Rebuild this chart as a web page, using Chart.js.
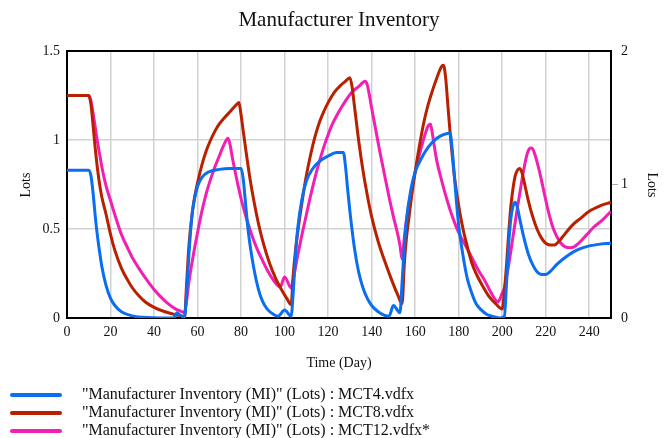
<!DOCTYPE html>
<html>
<head>
<meta charset="utf-8">
<script src="https://cdn.jsdelivr.net/npm/chart.js@4/dist/chart.umd.min.js"></script>
<style>
html,body{margin:0;padding:0;background:#fff;}
#wrap{width:664px;height:438px;}
</style>
</head>
<body>
<div id="wrap"><canvas id="c" width="664" height="438"></canvas></div>
<script>
const chartTitle = "Manufacturer Inventory";
const xTitle = "Time (Day)";
const yTitle = "Lots";
const seriesLabels = [
  "\"Manufacturer Inventory (MI)\" (Lots) : MCT4.vdfx",
  "\"Manufacturer Inventory (MI)\" (Lots) : MCT8.vdfx",
  "\"Manufacturer Inventory (MI)\" (Lots) : MCT12.vdfx*"
];
const seriesColors = ["#0a6ef0", "#b92000", "#f21fb2"];

const mct4T = [0,10,11,12,13,14,15,16,18,20,22,25,30,35,40,45,49,50.5,52,54,55,56,57,58,60,62,65,70,75,80,81,82,83,84,86,88,90,92,95,97,100,103,104,105,106,108,110,113,116,120,124,127,128,129,130,132,134,136,138,140,143,146,148,150,153,154,155,156,158,160,163,166,170,173,176,177,178,179,180,182,184,186,188,190,193,196,199,201,202,203,204,205,206,207,208,210,212,214,216,218,220,222,225,230,235,240,245,250];
const mct4V = [0.83,0.83,0.80,0.70,0.57,0.46,0.37,0.29,0.18,0.11,0.07,0.035,0.012,0.004,0.001,0,0,0.03,0.015,0.005,0.15,0.35,0.52,0.63,0.74,0.79,0.82,0.835,0.84,0.84,0.78,0.65,0.52,0.42,0.27,0.16,0.09,0.05,0.02,0.01,0.045,0.01,0.15,0.35,0.5,0.67,0.77,0.84,0.88,0.91,0.93,0.93,0.85,0.72,0.6,0.4,0.26,0.17,0.11,0.07,0.035,0.015,0.01,0.07,0.03,0.2,0.4,0.55,0.72,0.82,0.9,0.96,1.01,1.03,1.04,0.95,0.8,0.65,0.52,0.35,0.22,0.14,0.08,0.05,0.02,0.008,0,0.01,0.2,0.42,0.56,0.63,0.65,0.62,0.56,0.45,0.36,0.3,0.26,0.245,0.245,0.26,0.3,0.35,0.385,0.405,0.415,0.42];

const mct8T = [0,10,11,12,13,14,15,16,18,20,22,25,28,30,33,36,40,45,50,53,54,55,56,57,58,60,62,64,66,68,70,72,75,78,79,80,81,82,84,86,88,90,93,96,99,101,103,104,105,106,108,110,112,114,116,118,120,123,126,128,130,131,132,133,134,136,138,140,143,146,149,152,154,155,156,157,158,160,162,164,166,168,170,172,173,174,175,176,177,178,180,182,184,186,188,191,194,197,200,201,202,203,204,205,206,207,208,209,210,212,214,216,218,220,222,224,226,228,230,233,236,240,245,250];
const mct8V = [1.25,1.25,1.2,1.08,0.95,0.84,0.75,0.68,0.58,0.47,0.38,0.28,0.21,0.17,0.125,0.09,0.06,0.035,0.018,0.01,0,0.2,0.4,0.53,0.63,0.76,0.86,0.94,1.0,1.05,1.09,1.12,1.16,1.2,1.21,1.14,1.05,0.96,0.79,0.65,0.53,0.43,0.31,0.22,0.15,0.11,0.075,0.25,0.38,0.48,0.65,0.8,0.92,1.02,1.1,1.16,1.21,1.27,1.31,1.33,1.35,1.3,1.2,1.1,1.0,0.83,0.69,0.57,0.43,0.32,0.22,0.13,0.08,0.3,0.45,0.55,0.65,0.82,0.97,1.1,1.2,1.28,1.35,1.41,1.42,1.35,1.2,1.05,0.92,0.8,0.63,0.5,0.4,0.31,0.25,0.18,0.12,0.08,0.05,0.15,0.3,0.48,0.63,0.73,0.8,0.83,0.84,0.82,0.77,0.66,0.57,0.5,0.45,0.42,0.41,0.41,0.43,0.46,0.49,0.53,0.56,0.6,0.63,0.65];

const mct12T = [0,10,11,12,13,14,15,16,18,20,22,25,28,30,33,36,40,43,46,50,52,53,54,55,56,58,60,62,64,66,68,70,72,74,75,76,78,80,82,84,86,88,90,92,95,97,98,100,103,104,106,108,110,112,114,116,118,120,122,125,128,131,134,137,138,139,140,142,144,146,148,150,152,153,154,155,156,158,160,162,164,166,167,168,169,170,172,174,176,178,180,183,186,189,192,195,197,198,200,201,203,205,207,209,210,211,212,213,214,215,217,219,221,223,225,227,229,231,233,236,239,242,246,250];
const mct12V = [1.25,1.25,1.22,1.15,1.07,0.99,0.92,0.85,0.74,0.66,0.58,0.47,0.39,0.34,0.28,0.225,0.16,0.12,0.085,0.05,0.04,0.035,0.03,0.1,0.2,0.35,0.48,0.6,0.7,0.78,0.85,0.91,0.97,1.01,0.97,0.9,0.78,0.67,0.58,0.5,0.43,0.37,0.32,0.27,0.21,0.18,0.175,0.23,0.17,0.22,0.35,0.47,0.58,0.69,0.79,0.88,0.96,1.03,1.09,1.16,1.22,1.27,1.3,1.33,1.31,1.25,1.18,1.05,0.92,0.8,0.68,0.57,0.47,0.41,0.33,0.45,0.55,0.7,0.82,0.92,1.01,1.08,1.09,1.03,0.95,0.88,0.78,0.69,0.61,0.54,0.48,0.41,0.34,0.27,0.21,0.14,0.1,0.09,0.14,0.17,0.3,0.46,0.62,0.77,0.84,0.9,0.94,0.955,0.95,0.92,0.83,0.72,0.61,0.52,0.46,0.42,0.4,0.395,0.4,0.43,0.47,0.51,0.55,0.6];

const xTicksStep = 20;
const leftTicksStep = 0.5;
const rightTicksStep = 1;

function pts(t, v){ return t.map((x,i)=>({x:x, y:v[i]})); }

const serif = "'Liberation Serif','Times New Roman',serif";

const textPlugin = {
  id: 'textPlugin',
  beforeDatasetsDraw(chart){
    const {ctx, chartArea:a} = chart;
    ctx.save();
    ctx.strokeStyle = '#000';
    ctx.lineWidth = 2;
    ctx.strokeRect(a.left, a.top, a.right - a.left, a.bottom - a.top);
    ctx.restore();
  },
  afterDraw(chart){
    const {ctx} = chart;
    ctx.save();
    ctx.fillStyle = '#111';
    ctx.textAlign = 'center';
    ctx.textBaseline = 'middle';
    ctx.font = "21px " + serif;
    ctx.fillText(chartTitle, 339, 20);
    ctx.font = "14px " + serif;
    ctx.fillText(xTitle, 339, 363);
    ctx.save();
    ctx.translate(26, 185);
    ctx.rotate(-Math.PI/2);
    ctx.fillText(yTitle, 0, 0);
    ctx.restore();
    ctx.save();
    ctx.translate(652, 185);
    ctx.rotate(Math.PI/2);
    ctx.fillText(yTitle, 0, 0);
    ctx.restore();
    // legend
    const rows = [395, 413, 431];
    ctx.textAlign = 'left';
    ctx.font = "16px " + serif;
    chart.data.datasets.forEach((ds, i) => {
      const y = rows[i];
      ctx.strokeStyle = ds.borderColor;
      ctx.lineWidth = 4;
      ctx.lineCap = 'round';
      ctx.beginPath();
      ctx.moveTo(12, y);
      ctx.lineTo(60, y);
      ctx.stroke();
      ctx.fillStyle = '#111';
      ctx.fillText(ds.label, 82, y);
    });
    ctx.restore();
  }
};

const fmt = v => String(+Number(v).toFixed(2));

new Chart(document.getElementById('c'), {
  type: 'line',
  data: {
    datasets: [
      {label: seriesLabels[0], data: pts(mct4T, mct4V), borderColor: seriesColors[0]},
      {label: seriesLabels[1], data: pts(mct8T, mct8V), borderColor: seriesColors[1]},
      {label: seriesLabels[2], data: pts(mct12T, mct12V), borderColor: seriesColors[2]}
    ].map(d => Object.assign(d, {borderWidth: 3, pointRadius: 0, fill: false, cubicInterpolationMode: 'monotone', yAxisID: 'y'}))
  },
  options: {
    responsive: false,
    animation: false,
    layout: {padding: {top: 51, left: 0, right: 0, bottom: 0}},
    plugins: {legend: {display: false}, title: {display: false}, tooltip: {enabled: false}},
    scales: {
      x: {
        type: 'linear', min: 0, max: 250,
        afterFit(s){ s.height = 120; },
        ticks: {stepSize: xTicksStep, includeBounds: false, color: '#111', padding: 6, font: {family: serif, size: 14}, callback: fmt},
        grid: {color: '#d2d2d2', lineWidth: 1.5, drawTicks: false},
        border: {display: false}
      },
      y: {
        type: 'linear', position: 'left', min: 0, max: 1.5,
        afterFit(s){ s.width = 67; },
        ticks: {stepSize: leftTicksStep, color: '#111', padding: 7, font: {family: serif, size: 14}, callback: fmt},
        grid: {color: '#d2d2d2', lineWidth: 1.5, drawTicks: false},
        border: {display: false}
      },
      y2: {
        type: 'linear', position: 'right', min: 0, max: 2,
        afterFit(s){ s.width = 53; },
        ticks: {stepSize: rightTicksStep, color: '#111', padding: 3, font: {family: serif, size: 14}, callback: fmt},
        grid: {drawOnChartArea: false, tickLength: 7, color: (c) => c.tick && c.tick.value === 1 ? '#aaaaaa' : 'rgba(0,0,0,0)'},
        border: {display: false}
      }
    }
  },
  plugins: [textPlugin]
});
</script>
</body>
</html>
